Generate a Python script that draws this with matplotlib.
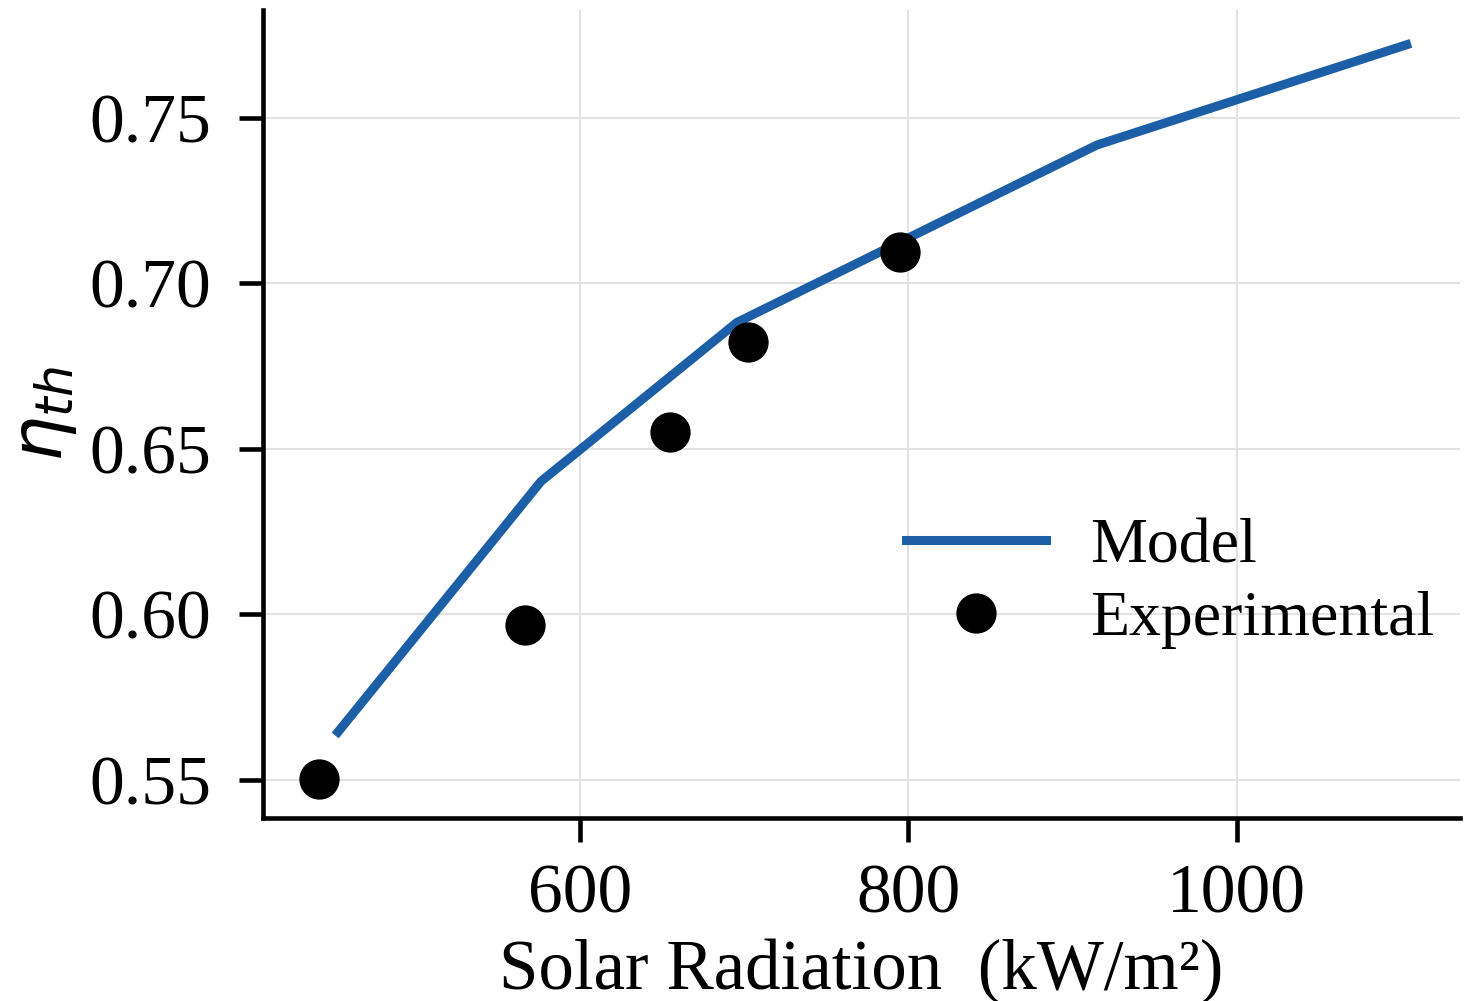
import matplotlib
matplotlib.use("Agg")
import matplotlib.pyplot as plt
import numpy as np

# Data
model_x = [452.7, 576.3, 695.6, 914.8, 1103.5]
model_y = [0.5645, 0.6402, 0.6882, 0.7418, 0.7721]
exp_x = [441.0, 566.5, 654.8, 702.3, 794.8]
exp_y = [0.5503, 0.5967, 0.6551, 0.6822, 0.7094]
xticks = [600, 800, 1000]
yticks = [0.55, 0.60, 0.65, 0.70, 0.75]
xlabel = "Solar Radiation  (kW/m²)"
ylabel = r"$\eta_{th}$"

plt.rcParams['font.family'] = ['Liberation Serif', 'DejaVu Serif']
plt.rcParams['mathtext.fontset'] = 'dejavusans'

fig = plt.figure(figsize=(14.66, 10.01), dpi=100)
ax = fig.add_axes([0.1794, 0.1828, 0.8165, 0.8072])

ax.plot(model_x, model_y, color='#1c5fa7', lw=6.5, label='Model', zorder=3)
ax.plot(exp_x, exp_y, 'o', color='black', markersize=28, label='Experimental', zorder=4)

ax.set_xlim(407, 1136)
ax.set_ylim(0.5385, 0.7826)
ax.set_xticks(xticks)
ax.set_yticks(yticks)
ax.set_yticklabels([f"{v:.2f}" for v in yticks])
ax.grid(True, color='#e2e2e2', lw=1.5)
ax.set_axisbelow(True)

for s in ['top', 'right']:
    ax.spines[s].set_visible(False)
for s in ['left', 'bottom']:
    ax.spines[s].set_linewidth(3.3)

ax.tick_params(axis='both', labelsize=50, width=3.3, length=17, direction='out')
ax.tick_params(axis='y', pad=20)
ax.tick_params(axis='x', pad=16)
ax.set_xlabel(xlabel, fontsize=51, labelpad=8)
ax.set_ylabel(ylabel, fontsize=52, labelpad=8)

ax.legend(loc='center', bbox_to_anchor=(0.758, 0.290), frameon=False, fontsize=46,
          handlelength=2.19, handletextpad=0.7, labelspacing=0.22, numpoints=1)

fig.savefig("out.png", dpi=100)
